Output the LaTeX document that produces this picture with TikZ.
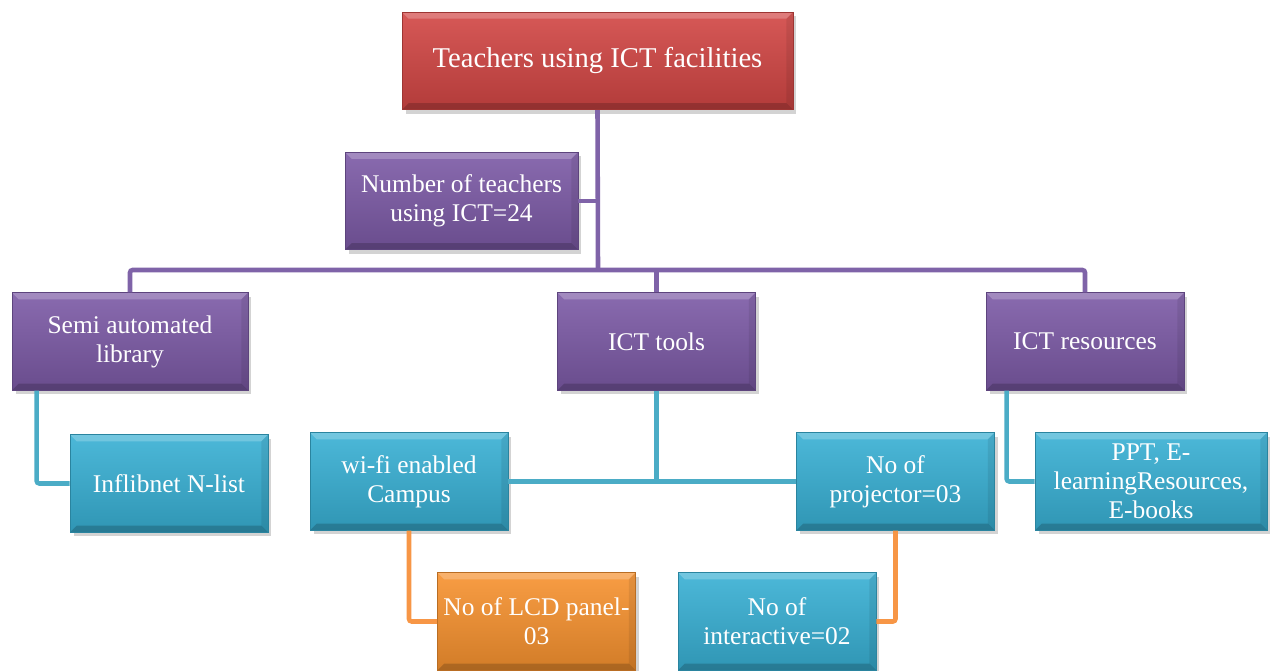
\documentclass[tikz,border=0pt]{standalone}
\usepackage{fontspec}
\setmainfont{Liberation Serif}
\usetikzlibrary{shadows}

\definecolor{boxred}{HTML}{D24644}
\definecolor{boxpurple}{HTML}{7C5AA6}
\definecolor{boxcyan}{HTML}{38B0D4}
\definecolor{boxorange}{HTML}{F7922F}
\definecolor{linepurple}{HTML}{7F63A8}
\definecolor{linecyan}{HTML}{4BACC6}
\definecolor{lineorange}{HTML}{F79646}

\tikzset{
  box/.style={draw=#1!75!black, line width=0.4pt, text=white, align=center,
    top color=#1!90!white, bottom color=#1!85!black,
    minimum width=3.96cm, minimum height=1.95cm, inner sep=2pt,
    font=\fontsize{14.5}{16.5}\selectfont,
    drop shadow={opacity=0.35, shadow xshift=0.7mm, shadow yshift=-0.8mm},
    path picture={
      \fill[white, opacity=0.22] (path picture bounding box.north west) -- (path picture bounding box.north east)
        -- ([shift={(-1.3mm,-1.3mm)}]path picture bounding box.north east) -- ([shift={(1.3mm,-1.3mm)}]path picture bounding box.north west) -- cycle;
      \fill[black, opacity=0.18] (path picture bounding box.south west) -- (path picture bounding box.south east)
        -- ([shift={(-1.3mm,1.3mm)}]path picture bounding box.south east) -- ([shift={(1.3mm,1.3mm)}]path picture bounding box.south west) -- cycle;
      \fill[black, opacity=0.08] (path picture bounding box.north east) -- (path picture bounding box.south east)
        -- ([shift={(-1.3mm,1.3mm)}]path picture bounding box.south east) -- ([shift={(-1.3mm,-1.3mm)}]path picture bounding box.north east) -- cycle;
    }},
  link/.style={line width=2.6pt, rounded corners=1.5pt},
}

\begin{document}
\begin{tikzpicture}[x=0.02cm, y=-0.02cm]
\useasboundingbox (0,0) rectangle (1271,671);

% top level
\node[box=boxred, minimum width=7.82cm, font=\fontsize{16.3}{18}\selectfont] (top) at (597.5,61) {Teachers using ICT facilities};
\node[box=boxpurple, minimum width=4.66cm] (num) at (461.5,201) {Number of teachers\\using ICT=24};
\coordinate (bus) at (598,270);

% second level
\node[box=boxpurple, minimum width=4.72cm] (semi) at (130,341.5) {Semi automated\\library};
\node[box=boxpurple] (tools) at (656.5,341.5) {ICT tools};
\node[box=boxpurple] (res) at (1085,341.5) {ICT resources};

% third level
\node[box=boxcyan] (inf) at (169,483.5) {Inflibnet N-list};
\node[box=boxcyan] (wifi) at (409,481.5) {wi-fi enabled\\Campus};
\node[box=boxcyan] (proj) at (895.5,481.5) {No of\\projector=03};
\node[box=boxcyan, minimum width=4.64cm] (ppt) at (1151,481.5) {PPT, E-\\learningResources,\\E-books};

% fourth level
\node[box=boxorange] (lcd) at (536.5,621.5) {No of LCD panel-\\03};
\node[box=boxcyan] (inter) at (777,621.5) {No of\\interactive=02};

% purple links
\draw[link, linepurple] (top.south) -- (bus);
\draw[link, linepurple] (num.east) -- (num.east -| bus);
\draw[link, linepurple] (semi.north) |- (res.north |- bus) -- (res.north);
\draw[link, linepurple] (tools.north) -- (tools.north |- bus);

% cyan links
\draw[link, linecyan] ([xshift=0.5cm]semi.south west) |- (inf.west);
\draw[link, linecyan] (wifi.east) -- (proj.west);
\draw[link, linecyan] (tools.south) -- (tools.south |- wifi.east);
\draw[link, linecyan] ([xshift=0.42cm]res.south west) |- (ppt.west);

% orange links
\draw[link, lineorange] (wifi.south) |- (lcd.west);
\draw[link, lineorange] (proj.south) |- (inter.east);
\end{tikzpicture}
\end{document}
